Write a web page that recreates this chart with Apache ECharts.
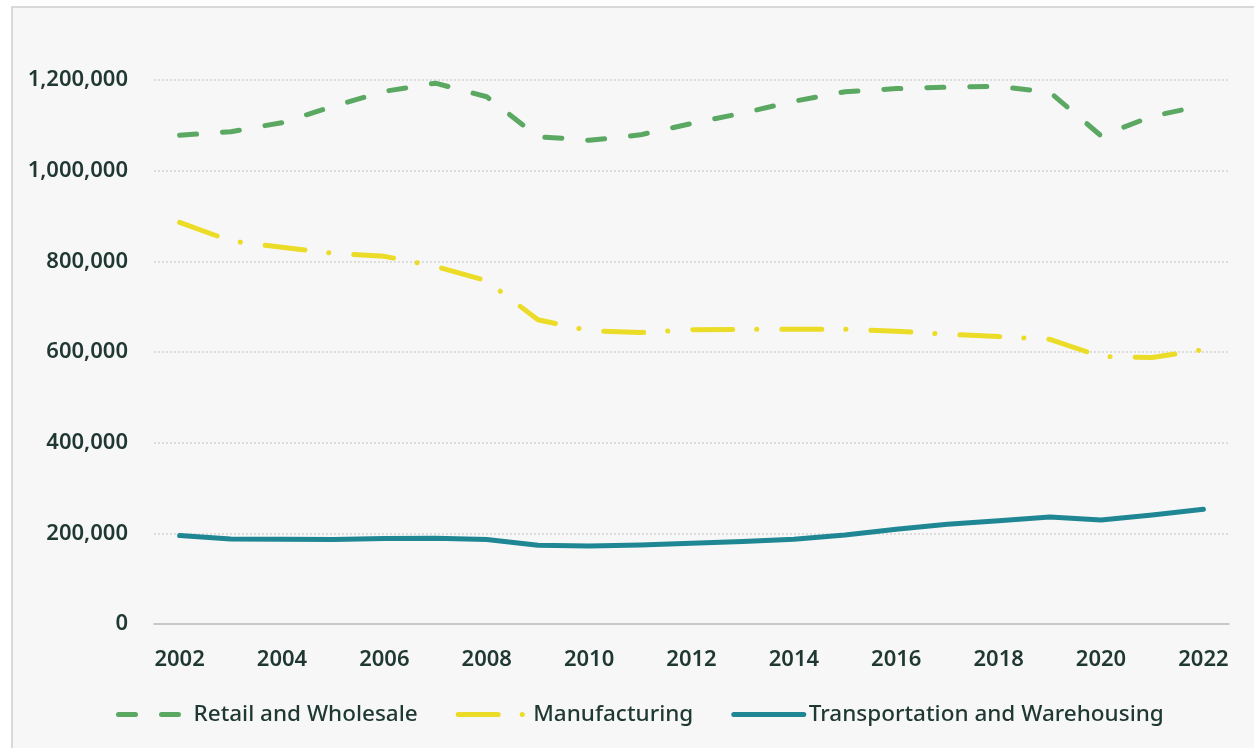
<!DOCTYPE html>
<html>
<head>
<meta charset="utf-8">
<script src="https://cdn.jsdelivr.net/npm/echarts@6/dist/echarts.min.js"></script>
<style>
  html, body { margin: 0; padding: 0; background: #ffffff; overflow: hidden; }
  #frame {
    position: absolute; left: 11px; top: 6px; width: 1300px; height: 800px;
    background: #f7f7f7; border: 2px solid #d9d9d9; box-sizing: border-box;
  }
  #chart { position: absolute; left: 0; top: 0; width: 1254px; height: 748px; }
</style>
</head>
<body>
<div id="frame"></div>
<div id="chart"></div>
<script>
// Employment by sector, 2002-2022
const years = ['2002','2003','2004','2005','2006','2007','2008','2009','2010','2011','2012',
               '2013','2014','2015','2016','2017','2018','2019','2020','2021','2022'];

const retailWholesale = [1078000, 1086000, 1106000, 1142000, 1175000, 1193000, 1163000,
  1075000, 1067000, 1079000, 1104000, 1127000, 1153000, 1174000, 1181000, 1184000,
  1186000, 1173000, 1077000, 1120000, 1144000];

const manufacturing = [886000, 845000, 831000, 818000, 811000, 789000, 757000,
  671000, 647000, 643000, 649000, 650000, 650000, 650000, 646000, 639000,
  634000, 628000, 590000, 588000, 605000];

const transportWarehousing = [195000, 187600, 187000, 186200, 188400, 189100, 186200,
  173700, 172200, 174400, 178100, 181800, 187000, 196500, 209000, 220100,
  228000, 236000, 229600, 240600, 253000];

const yTicks = { min: 0, max: 1200000, step: 200000 };

const seriesNames = ['Retail and Wholesale', 'Manufacturing', 'Transportation and Warehousing'];

const textColor = '#1f3832';
const fontFamily = '"Noto Sans", "Open Sans", sans-serif';

const chart = echarts.init(document.getElementById('chart'), null, { renderer: 'canvas' });

chart.setOption({
  backgroundColor: 'transparent',
  animation: false,
  grid: { left: 154, right: 25, top: 80, bottom: 124, containLabel: false },
  legend: {
    data: seriesNames,
    bottom: 17,
    left: 111,
    itemWidth: 70,
    itemHeight: 10,
    itemGap: 38,
    itemStyle: { opacity: 0 },
    lineStyle: { width: 5, cap: 'round' },
    textStyle: { color: textColor, fontSize: 22.5, fontFamily: fontFamily, fontWeight: 500 }
  },
  xAxis: {
    type: 'category',
    data: years,
    boundaryGap: true,
    axisLine: { lineStyle: { color: '#bfbfbf', width: 1.5 } },
    axisTick: { alignWithLabel: true, length: 6, lineStyle: { color: '#bfbfbf', width: 1.5 } },
    axisLabel: {
      interval: 1,
      margin: 25,
      color: textColor,
      fontSize: 22,
      fontWeight: 600,
      fontFamily: fontFamily
    },
    splitLine: { show: false }
  },
  yAxis: {
    type: 'value',
    min: yTicks.min,
    max: yTicks.max,
    interval: yTicks.step,
    axisLine: { show: false },
    axisTick: { show: false },
    axisLabel: {
      margin: 26,
      padding: [4, 0, 0, 0],
      color: textColor,
      fontSize: 22,
      fontWeight: 600,
      fontFamily: fontFamily,
      formatter: v => v.toLocaleString('en-US')
    },
    splitLine: { lineStyle: { color: '#d4d4d4', width: 1.5, type: [2, 2] } }
  },
  series: [
    {
      name: seriesNames[0],
      type: 'line',
      data: retailWholesale,
      showSymbol: false,
      symbol: 'none',
      itemStyle: { color: '#5ba863' },
      lineStyle: { color: '#5ba863', width: 5, type: [17, 26], cap: 'round', join: 'round' }
    },
    {
      name: seriesNames[1],
      type: 'line',
      data: manufacturing,
      showSymbol: false,
      symbol: 'none',
      itemStyle: { color: '#ebdc27' },
      lineStyle: { color: '#ebdc27', width: 5, type: [40, 24, 0.1, 25], cap: 'round', join: 'round' }
    },
    {
      name: seriesNames[2],
      type: 'line',
      data: transportWarehousing,
      showSymbol: false,
      symbol: 'none',
      itemStyle: { color: '#1f8794' },
      lineStyle: { color: '#1f8794', width: 5, cap: 'round', join: 'round' }
    }
  ]
});
</script>
</body>
</html>
